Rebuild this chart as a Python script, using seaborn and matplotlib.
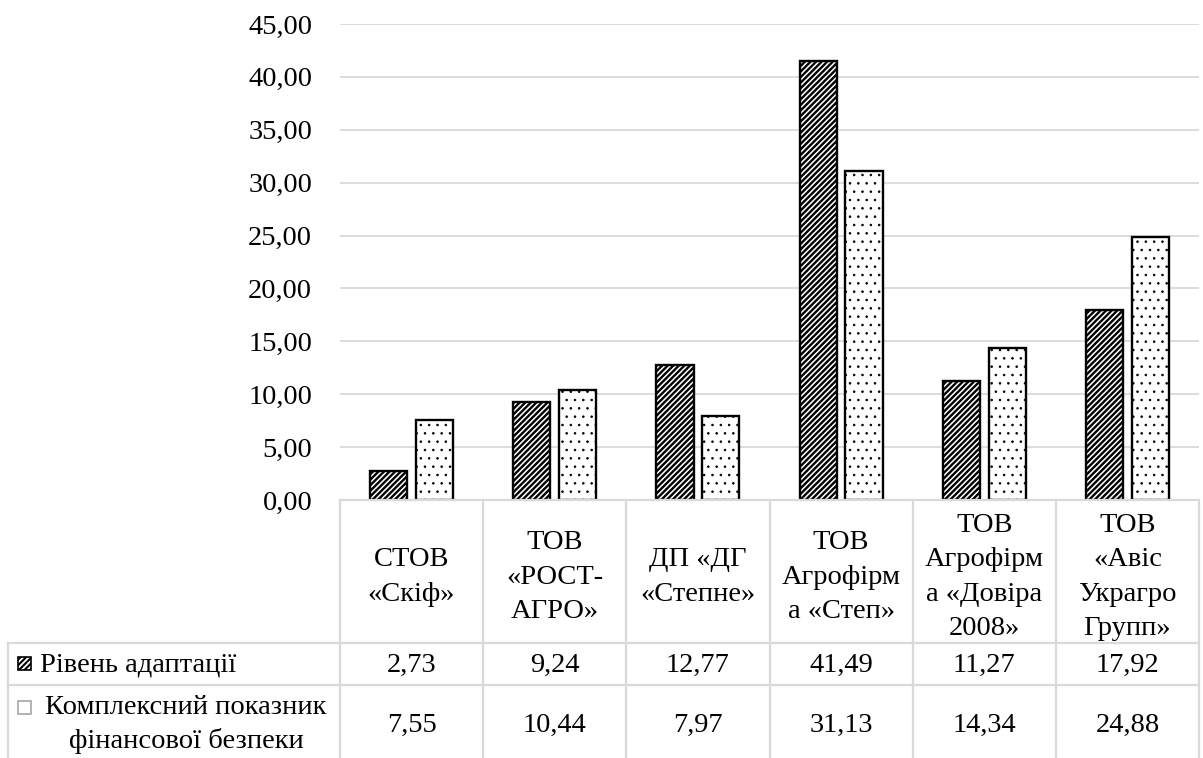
import matplotlib
matplotlib.use("Agg")
import matplotlib.pyplot as plt
import matplotlib.transforms as mtransforms
from matplotlib.lines import Line2D
from matplotlib.patches import Rectangle
import seaborn as sns
import pandas as pd

# ---- data ----
categories = ["СТОВ\n«Скіф»", "ТОВ\n«РОСТ-\nАГРО»", "ДП «ДГ\n«Степне»",
              "ТОВ\nАгрофірм\nа «Степ»", "ТОВ\nАгрофірм\nа «Довіра\n2008»",
              "ТОВ\n«Авіс\nУкрагро\nГрупп»"]
series_names = ["Рівень адаптації", "Комплексний показник\nфінансової безпеки"]
adaptation = [2.73, 9.24, 12.77, 41.49, 11.27, 17.92]
fin_security = [7.55, 10.44, 7.97, 31.13, 14.34, 24.88]
yticks = [0, 5, 10, 15, 20, 25, 30, 35, 40, 45]

df = pd.DataFrame({
    "cat": categories * 2,
    "series": [series_names[0]] * 6 + [series_names[1]] * 6,
    "value": adaptation + fin_security,
})

FAM = "Liberation Serif"
plt.rcParams["font.family"] = FAM
plt.rcParams["axes.facecolor"] = "white"
plt.rcParams["figure.facecolor"] = "white"
FS = 20.5
GRID = "#d9d9d9"

W, H = 1203, 758
fig = plt.figure(figsize=(W / 100, H / 100), dpi=100)

def fx(px):
    return px / W

def fy(py):
    return 1 - py / H

ax_left, ax_right, ax_top, ax_bottom = 340, 1199, 24, 500
ax = fig.add_axes([fx(ax_left), fy(ax_bottom), fx(ax_right - ax_left), (ax_bottom - ax_top) / H])

sns.barplot(data=df, x="cat", y="value", hue="series", order=categories,
            hue_order=series_names, width=0.64, gap=0.19, ax=ax,
            edgecolor="black", linewidth=1.7, legend=False, saturation=1,
            palette=["white", "white"])

hatches = ["//////", ".."]
hatch_lws = [1.7, 0.6]
for container, h, hlw in zip(ax.containers, hatches, hatch_lws):
    for bar in container:
        bar.set_hatch(h)
        bar.set_hatch_linewidth(hlw)
        bar.set_facecolor("white")
        bar.set_edgecolor("black")

ax.set_xlim(-0.5, len(categories) - 0.5)
ax.set_ylim(0, 45)
ax.set_yticks(yticks)
ax.set_yticklabels([f"{v:.2f}".replace(".", ",") for v in yticks], fontsize=FS, family=FAM)
ax.tick_params(axis="y", length=0, pad=20, colors="black")
ax.set_xticks([])
ax.set_xlabel("")
ax.set_ylabel("")
for s in ax.spines.values():
    s.set_visible(False)
ax.yaxis.grid(True, color=GRID, linewidth=1.3)
ax.xaxis.grid(False)
ax.set_axisbelow(True)

# ---- data table below the axes ----
tbl_left = 8
row_header_bot = 643
row1_bot = 685
row2_bot = 763
tlw = 1.6

def hline(y, x0, x1):
    fig.add_artist(Line2D([fx(x0), fx(x1)], [fy(y), fy(y)], color=GRID, lw=tlw))

def vline(x, y0, y1):
    fig.add_artist(Line2D([fx(x), fx(x)], [fy(y0), fy(y1)], color=GRID, lw=tlw))

hline(ax_bottom, ax_left, ax_right)
hline(row_header_bot, tbl_left, ax_right)
hline(row1_bot, tbl_left, ax_right)
vline(tbl_left, row_header_bot, row2_bot)
col_w = (ax_right - ax_left) / len(categories)
for i in range(len(categories) + 1):
    vline(ax_left + i * col_w, ax_bottom, row2_bot)

trans = mtransforms.blended_transform_factory(ax.transData, fig.transFigure)
fmt = lambda v: f"{v:.2f}".replace(".", ",")
for i, cat in enumerate(categories):
    ax.text(i, fy(577), cat, transform=trans, family=FAM,
            ha="center", va="center", fontsize=FS, linespacing=1.48, clip_on=False)
    ax.text(i, fy((row_header_bot + row1_bot) / 2 + 1), fmt(adaptation[i]), transform=trans,
            family=FAM, ha="center", va="center", fontsize=FS, clip_on=False)
    ax.text(i, fy(725), fmt(fin_security[i]), transform=trans,
            family=FAM, ha="center", va="center", fontsize=FS, clip_on=False)

# legend keys + row labels
fig.text(fx(40), fy((row_header_bot + row1_bot) / 2 + 1), series_names[0], family=FAM,
         ha="left", va="center", fontsize=FS)
fig.text(fx(186), fy(725), series_names[1], family=FAM,
         ha="center", va="center", fontsize=FS, linespacing=1.4, multialignment="center")
k1 = Rectangle((fx(18), fy(670)), fx(13), 13 / H, transform=fig.transFigure,
               facecolor="white", edgecolor="black", hatch="//////", lw=1.2)
k1.set_hatch_linewidth(1.5)
fig.add_artist(k1)
k2 = Rectangle((fx(18), fy(714)), fx(13), 13 / H, transform=fig.transFigure,
               facecolor="white", edgecolor="#a6a6a6", hatch=".", lw=1.2)
k2.set_hatch_linewidth(0.5)
fig.add_artist(k2)

fig.savefig("out.png", dpi=100)
